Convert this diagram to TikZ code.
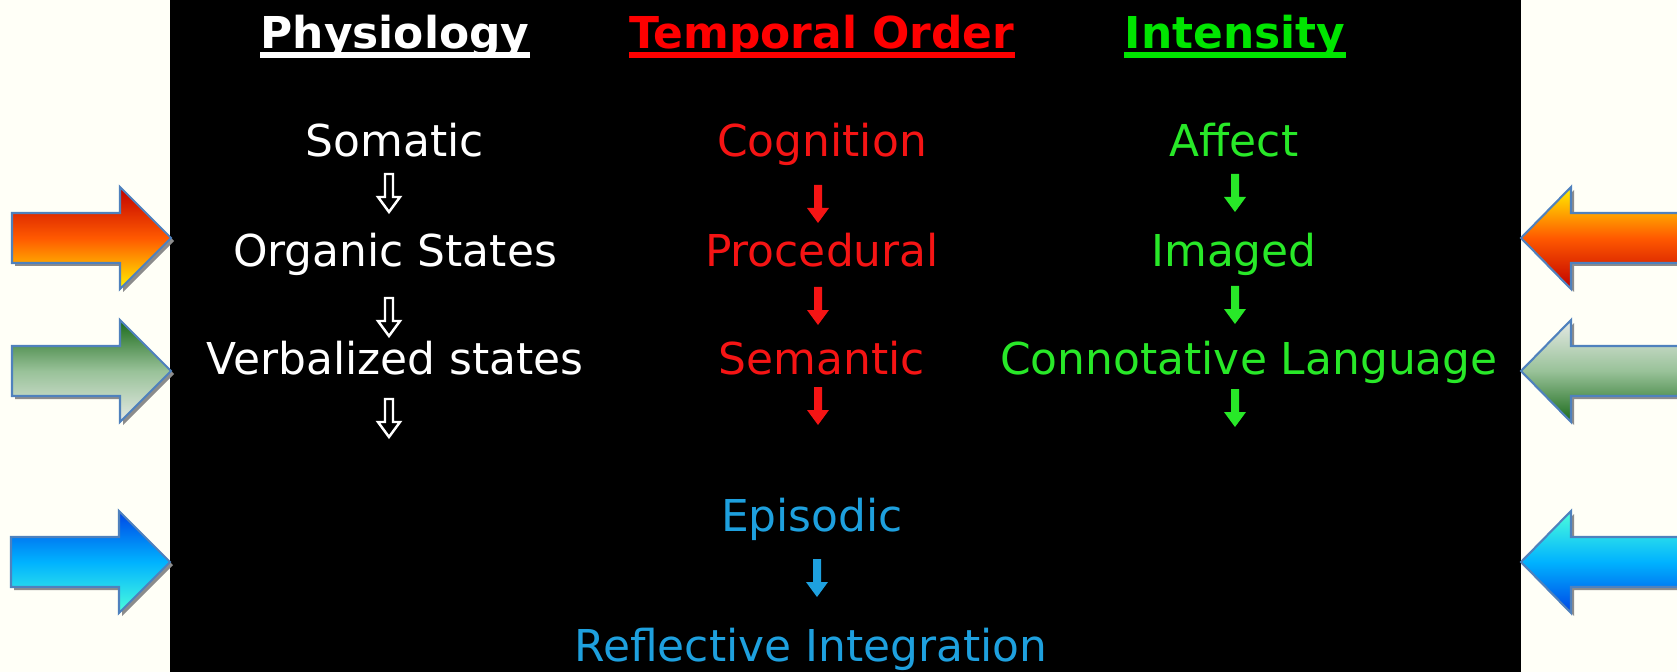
\documentclass[tikz,border=0pt]{standalone}
\usepackage{fontspec}
\setmainfont{DejaVu Sans}
\usetikzlibrary{positioning}
\definecolor{cream}{RGB}{255,255,247}
\definecolor{txtred}{RGB}{245,20,20}
\definecolor{txtgreen}{RGB}{40,232,40}
\definecolor{txtblue}{RGB}{30,160,222}
\definecolor{rimblue}{RGB}{79,129,189}
\tikzset{
	item/.style={anchor=base,inner sep=0pt,font=\fontsize{25}{30}\selectfont},
	head/.style={item,font=\fontsize{25}{30}\selectfont\bfseries},
	uline/.style={line width=3.2pt,line cap=butt},
	dnarr/.pic={\path[pic actions] (-4,0)--(4,0)--(4,23)--(11,23)--(0,38)--(-11,23)--(-4,23)--cycle;},
	bigR/.pic={
		\fill[black!45] (-156,-22)--(-48,-22)--(-48,-48)--(3,3)--(-48,54)--(-48,28)--(-156,28)--cycle;
		\path[pic actions] (-159,-25)--(-51,-25)--(-51,-51)--(0,0)--(-51,51)--(-51,25)--(-159,25)--cycle;},
	bigL/.pic={
		\fill[black!45] (170,-22)--(53,-22)--(53,-48)--(3,3)--(53,54)--(53,28)--(170,28)--cycle;
		\path[pic actions] (170,-25)--(50,-25)--(50,-51)--(0,0)--(50,51)--(50,25)--(170,25)--cycle;}
}
\begin{document}
\begin{tikzpicture}[x=0.02cm,y=-0.02cm,line join=miter]
	\useasboundingbox[fill=cream] (0,0) rectangle (1677,672);
	\fill[black] (170,0) rectangle (1521,672);

	% headers
	\node[head,white] (phys) at (395,49) {Physiology};
	\node[head,red] (temp) at (822,49) {Temporal Order};
	\node[head,green!90!black!100] (inten) at (1235,49) {Intensity};
	\draw[uline,white] ([yshift=-3.5pt]phys.base west) -- ([yshift=-3.5pt]phys.base east);
	\draw[uline,red] ([yshift=-3.5pt]temp.base west) -- ([yshift=-3.5pt]temp.base east);
	\draw[uline,green!90!black!100] ([yshift=-3.5pt]inten.base west) -- ([yshift=-3.5pt]inten.base east);

	% physiology column
	\node[item,white] (som) at (395,157) {Somatic};
	\node[item,white] (org) at (395,267) {Organic States};
	\node[item,white] (verb) at (395,374) {Verbalized states};
	\foreach \y in {174,298,399}
		\pic[draw=white,fill=black,line width=1.4pt] at (389,\y) {dnarr};

	% temporal order column
	\node[item,txtred] (cog) at (822,157) {Cognition};
	\node[item,txtred] (proc) at (822,267) {Procedural};
	\node[item,txtred] (sem) at (822,374) {Semantic};
	\foreach \y in {185,287,387}
		\pic[fill=txtred] at (818,\y) {dnarr};

	% intensity column
	\node[item,txtgreen] (aff) at (1234,157) {Affect};
	\node[item,txtgreen] (img) at (1234,267) {Imaged};
	\node[item,txtgreen] (conn) at (1249,374) {Connotative Language};
	\foreach \y in {174,286,389}
		\pic[fill=txtgreen] at (1235,\y) {dnarr};

	% integration
	\node[item,txtblue] (epi) at (812,531) {Episodic};
	\node[item,txtblue] (refl) at (811,661) {Reflective Integration};
	\pic[fill=txtblue] at (817,559) {dnarr};

	% side arrows
	\pic[draw=rimblue,line width=1.2pt,top color=red!75!black,bottom color=yellow!90!orange,middle color=orange!70!red] at (171,238) {bigR};
	\pic[draw=rimblue,line width=1.2pt,top color=green!35!black!90!white,bottom color=green!15!black!10!white,middle color=green!40!black!40!white] at (171,371) {bigR};
	\pic[draw=rimblue,line width=1.2pt,top color=blue!70!cyan!90!black,bottom color=cyan!80!green!70!white,middle color=cyan!70!blue] at (170,562) {bigR};
	\pic[draw=rimblue,line width=1.2pt,top color=yellow!90!orange,bottom color=red!75!black,middle color=orange!70!red] at (1521,238) {bigL};
	\pic[draw=rimblue,line width=1.2pt,top color=green!15!black!10!white,bottom color=green!35!black!90!white,middle color=green!40!black!40!white] at (1521,371) {bigL};
	\pic[draw=rimblue,line width=1.2pt,top color=cyan!80!green!70!white,bottom color=blue!70!cyan!90!black,middle color=cyan!70!blue] at (1521,562) {bigL};
\end{tikzpicture}
\end{document}
